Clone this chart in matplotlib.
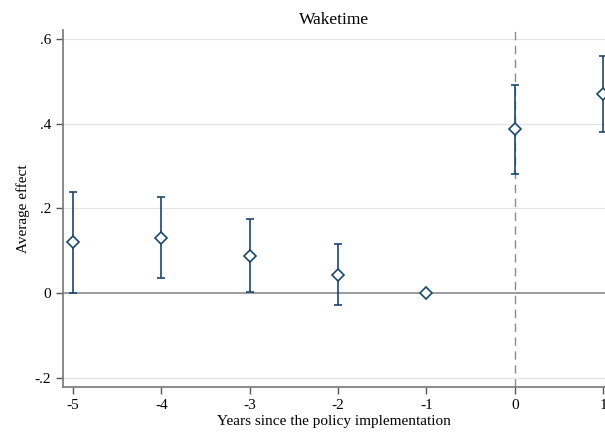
import matplotlib.pyplot as plt

plt.rcParams['font.family'] = ['Liberation Serif', 'DejaVu Serif']

years = [-5, -4, -3, -2, -1, 0, 1]
effect = [0.120, 0.130, 0.089, 0.044, 0.0, 0.388, 0.469]
ci_low = [0.000, 0.035, 0.003, -0.028, 0.0, 0.282, 0.379]
ci_high = [0.238, 0.228, 0.175, 0.116, 0.0, 0.491, 0.560]
yticks = [-0.2, 0, 0.2, 0.4, 0.6]
ytick_labels = ['-.2', '0', '.2', '.4', '.6']

navy = '#1a476f'

fig = plt.figure(figsize=(6.05, 4.32), dpi=100)
ax = fig.add_axes([0.104, 0.104, 0.896, 0.827])

ax.set_xlim(-5.113, 1.02)
ax.set_ylim(-0.221, 0.621)

for t in yticks:
    if t != 0:
        ax.axhline(t, color='#e4e4e4', lw=0.9, zorder=0)
ax.axhline(0, color='#8a8a8a', lw=1.2, zorder=1)
ax.axvline(0, color='#8a8a8a', lw=1.0, ls=(0, (6, 4)), zorder=1)

# confidence intervals (the -1 reference year has none)
for x, lo, hi in zip(years, ci_low, ci_high):
    if hi > lo:
        ax.vlines(x, lo, hi, color=navy, lw=1.2, zorder=2)
        ax.hlines([lo, hi], x - 0.045, x + 0.045, color=navy, lw=1.2, zorder=2)

ax.plot(years, effect, ls='none', marker='D', ms=6, mfc='white',
        mec=navy, mew=1.2, zorder=3)

ax.set_yticks(yticks)
ax.set_yticklabels(ytick_labels)
ax.set_xticks(years)
ax.set_xticklabels([str(y) for y in years])
ax.tick_params(labelsize=11, color='#555555', length=5, width=1)

for side in ['top', 'right']:
    ax.spines[side].set_visible(False)
for side in ['left', 'bottom']:
    ax.spines[side].set_color('#777777')
    ax.spines[side].set_linewidth(1.2)

ax.set_xlabel('Years since the policy implementation', fontsize=11, labelpad=2)
ax.set_ylabel('Average effect', fontsize=11, labelpad=3)
ax.set_title('Waketime', fontsize=12.5, pad=4)

plt.savefig('out.png', dpi=100)
